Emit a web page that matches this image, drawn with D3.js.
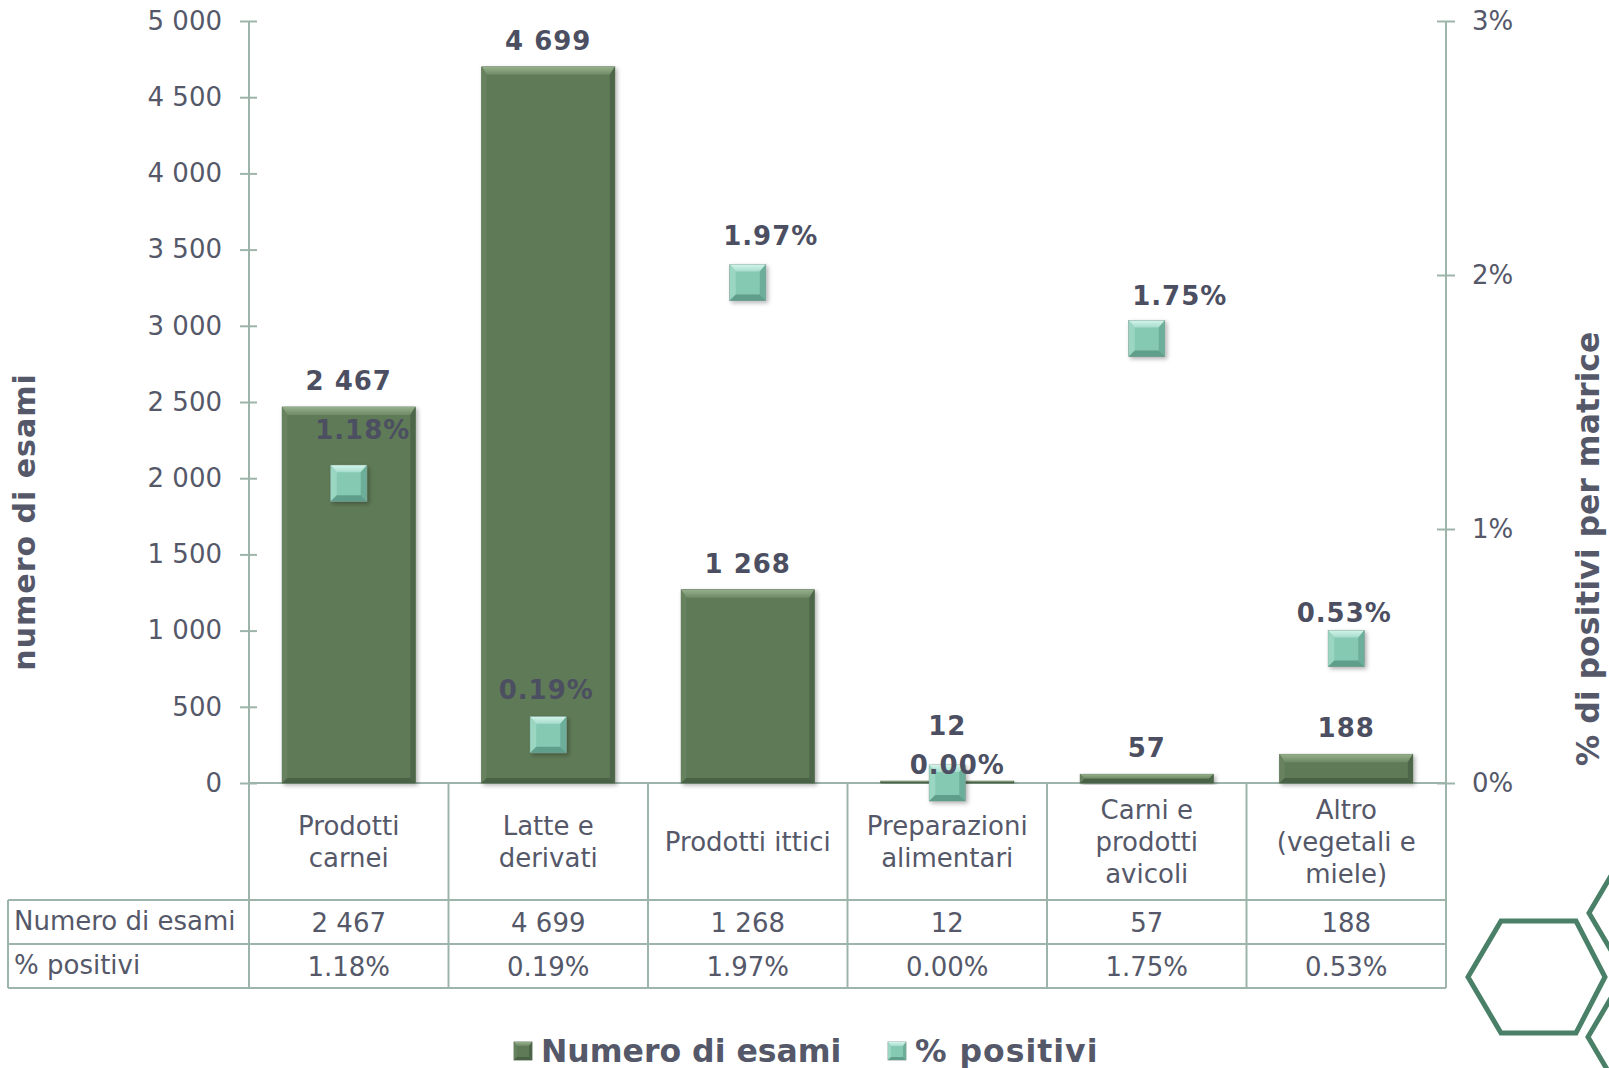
<!DOCTYPE html>
<html>
<head>
<meta charset="utf-8">
<script src="https://cdn.jsdelivr.net/npm/d3@7"></script>
<style>
  html, body { margin: 0; padding: 0; background: #ffffff; }
  svg { display: block; }
  text { font-family: "DejaVu Sans", Verdana, sans-serif; }
</style>
</head>
<body>
<svg id="chart" width="1609" height="1068"></svg>
<script>
// ---------- data ----------
const categories = ["Prodotti carnei", "Latte e derivati", "Prodotti ittici", "Preparazioni alimentari", "Carni e prodotti avicoli", "Altro (vegetali e miele)"];
const categoryLines = [["Prodotti", "carnei"], ["Latte e", "derivati"], ["Prodotti ittici"], ["Preparazioni", "alimentari"], ["Carni e", "prodotti", "avicoli"], ["Altro", "(vegetali e", "miele)"]];
const examCounts = [2467, 4699, 1268, 12, 57, 188];
const pctPositive = [0.0118, 0.0019, 0.0197, 0.0000, 0.0175, 0.0053];
const leftTicks = [0, 500, 1000, 1500, 2000, 2500, 3000, 3500, 4000, 4500, 5000];
const rightTicks = [0, 0.01, 0.02, 0.03];
const seriesNames = ["Numero di esami", "% positivi"];
const rowLabels = ["Numero di esami", "% positivi"];
const leftTitle = "numero di esami";
const rightTitle = "% di positivi per matrice";

// label nudges (px, relative to the default label anchor), as placed in the original
const barLabelNudge = [0, 0, 0, -29, 0, 0];
const pctLabelNudge = [[14, -44], [-2, -36], [23, -38], [10, -9], [33, -34], [-2, -26]];

// ---------- layout ----------
const svg = d3.select("#chart");
const X0 = 249, X1 = 1446, YTOP = 21, YBASE = 783;
const ROW1 = 900, ROW2 = 944, ROW3 = 988, TABLE_LEFT = 8;
const AXIS_COLOR = "#9cb4a9";
const TEXT_COLOR = "#555869";
const BOLD_COLOR = "#4c4f61";

const x = d3.scaleBand().domain(categories).range([X0, X1]).padding(0);
const y = d3.scaleLinear().domain([0, 5000]).range([YBASE, YTOP]);
const y2 = d3.scaleLinear().domain([0, 0.03]).range([YBASE, YTOP]);

const locale = d3.formatLocale({ decimal: ".", thousands: " ", grouping: [3], currency: ["", ""] });
const fmtNum = locale.format(",");
const fmtPct = d3.format(".2%");
const fmtPctAxis = d3.format(".0%");

// ---------- defs ----------
const defs = svg.append("defs");
const sh = defs.append("filter").attr("id", "shadow").attr("x", "-20%").attr("y", "-20%").attr("width", "140%").attr("height", "140%");
sh.append("feDropShadow").attr("dx", 2).attr("dy", 2).attr("stdDeviation", 2).attr("flood-color", "#000").attr("flood-opacity", 0.3);
const gTop = defs.append("linearGradient").attr("id", "barTop").attr("x1", 0).attr("y1", 0).attr("x2", 0).attr("y2", 1);
gTop.append("stop").attr("offset", 0).attr("stop-color", "#97b08c");
gTop.append("stop").attr("offset", 1).attr("stop-color", "#6d8964");
const mTop = defs.append("linearGradient").attr("id", "mkTop").attr("x1", 0).attr("y1", 0).attr("x2", 0).attr("y2", 1);
mTop.append("stop").attr("offset", 0).attr("stop-color", "#d2f4ea");
mTop.append("stop").attr("offset", 1).attr("stop-color", "#a6dccb");

function bevelBox(g, bx, by, w, h, bt, bs, colors, stroke) {
  const bT = Math.min(bt, h / 2), bS = Math.min(bs, w / 2, h / 2);
  g.append("rect").attr("x", bx).attr("y", by).attr("width", w).attr("height", h)
    .attr("fill", colors.face).attr("stroke", stroke).attr("stroke-width", 0.8);
  const poly = (pts, fill) => g.append("polygon").attr("points", pts.map(p => p.join(",")).join(" ")).attr("fill", fill);
  poly([[bx, by], [bx + w, by], [bx + w - bS, by + bT], [bx + bS, by + bT]], colors.top);
  poly([[bx, by], [bx + bS, by + bT], [bx + bS, by + h - bS], [bx, by + h]], colors.left);
  poly([[bx + w, by], [bx + w - bS, by + bT], [bx + w - bS, by + h - bS], [bx + w, by + h]], colors.right);
  poly([[bx, by + h], [bx + bS, by + h - bS], [bx + w - bS, by + h - bS], [bx + w, by + h]], colors.bottom);
}
const barColors = { face: "#5f7a57", top: "url(#barTop)", left: "#67825f", right: "#4e6648", bottom: "#4a6244" };
const mkColors = { face: "#86c9b3", top: "url(#mkTop)", left: "#9bd6c3", right: "#6cae99", bottom: "#5e9e8a" };

// ---------- axes ----------
const axL = svg.append("g").attr("transform", `translate(${X0},0)`)
  .call(d3.axisLeft(y).tickValues(leftTicks).tickFormat(fmtNum).tickSize(0).tickPadding(27));
axL.select(".domain").remove();
axL.selectAll(".tick line").attr("x1", -9).attr("x2", 8).attr("stroke", AXIS_COLOR).attr("stroke-width", 2);
axL.selectAll(".tick text").attr("font-size", 26).attr("fill", TEXT_COLOR).attr("font-family", "DejaVu Sans");

const axR = svg.append("g").attr("transform", `translate(${X1},0)`)
  .call(d3.axisRight(y2).tickValues(rightTicks).tickFormat(fmtPctAxis).tickSize(0).tickPadding(26));
axR.select(".domain").remove();
axR.selectAll(".tick line").attr("x1", -9).attr("x2", 9).attr("stroke", AXIS_COLOR).attr("stroke-width", 2);
axR.selectAll(".tick text").attr("font-size", 26).attr("fill", TEXT_COLOR).attr("font-family", "DejaVu Sans");

// axis lines and table grid
const grid = svg.append("g").attr("stroke", AXIS_COLOR).attr("stroke-width", 2).attr("fill", "none");
grid.append("line").attr("x1", X0).attr("x2", X0).attr("y1", YTOP).attr("y2", ROW3);
grid.append("line").attr("x1", X1).attr("x2", X1).attr("y1", YTOP).attr("y2", ROW3);
grid.append("line").attr("x1", X0).attr("x2", X1).attr("y1", YBASE).attr("y2", YBASE);
categories.slice(1).forEach(c => {
  grid.append("line").attr("x1", x(c)).attr("x2", x(c)).attr("y1", YBASE).attr("y2", ROW3);
});
[ROW1, ROW2, ROW3].forEach(r => grid.append("line").attr("x1", TABLE_LEFT).attr("x2", X1).attr("y1", r).attr("y2", r));
grid.append("line").attr("x1", TABLE_LEFT).attr("x2", TABLE_LEFT).attr("y1", ROW1).attr("y2", ROW3);

// ---------- bars ----------
const barW = x.bandwidth() * 0.667;
const bars = svg.append("g");
categories.forEach((c, i) => {
  const g = bars.append("g").attr("filter", "url(#shadow)");
  const bx = x(c) + (x.bandwidth() - barW) / 2;
  const by = y(examCounts[i]);
  const h = Math.max(1.5, YBASE - by);
  bevelBox(g, bx, YBASE - h, barW, h, 8, 5, barColors, "#4d6547");
});

// ---------- axis titles ----------
svg.append("text").attr("transform", `translate(35,522) rotate(-90)`).attr("text-anchor", "middle")
  .attr("font-size", 30).attr("letter-spacing", 1).attr("font-weight", "bold").attr("fill", TEXT_COLOR).text(leftTitle);
svg.append("text").attr("transform", `translate(1599,549) rotate(-90)`).attr("text-anchor", "middle")
  .attr("font-size", 31.5).attr("font-weight", "bold").attr("fill", TEXT_COLOR).text(rightTitle);

// ---------- table ----------
const tbl = svg.append("g").attr("font-size", 26).attr("fill", TEXT_COLOR);
categories.forEach((c, i) => {
  const cx = x(c) + x.bandwidth() / 2;
  const lines = categoryLines[i];
  const mid = (YBASE + ROW1) / 2;
  lines.forEach((ln, j) => {
    tbl.append("text").attr("x", cx).attr("y", mid + (j - (lines.length - 1) / 2) * 32)
      .attr("dy", "0.36em").attr("text-anchor", "middle").text(ln);
  });
  tbl.append("text").attr("x", cx).attr("y", (ROW1 + ROW2) / 2 + 1).attr("dy", "0.36em").attr("text-anchor", "middle").text(fmtNum(examCounts[i]));
  tbl.append("text").attr("x", cx).attr("y", (ROW2 + ROW3) / 2 + 1).attr("dy", "0.36em").attr("text-anchor", "middle").text(fmtPct(pctPositive[i]));
});
rowLabels.forEach((r, k) => {
  const cy = k === 0 ? (ROW1 + ROW2) / 2 : (ROW2 + ROW3) / 2;
  tbl.append("text").attr("x", 14).attr("y", cy - 1).attr("dy", "0.36em").text(r);
});

// ---------- markers ----------
const MK = 36;
const mk = svg.append("g");
categories.forEach((c, i) => {
  const cx = x(c) + x.bandwidth() / 2, cy = y2(pctPositive[i]);
  const g = mk.append("g").attr("filter", "url(#shadow)");
  bevelBox(g, cx - MK / 2, cy - MK / 2, MK, MK, 7, 6, mkColors, "#7e958d");
});

// ---------- data labels ----------
const lbl = svg.append("g").attr("font-size", 26).attr("font-weight", "bold").attr("fill", BOLD_COLOR).attr("text-anchor", "middle");
categories.forEach((c, i) => {
  const cx = x(c) + x.bandwidth() / 2;
  lbl.append("text").attr("x", cx).attr("y", y(examCounts[i]) - 17 + barLabelNudge[i]).attr("letter-spacing", 1).text(fmtNum(examCounts[i]));
  lbl.append("text").attr("x", cx + pctLabelNudge[i][0]).attr("y", y2(pctPositive[i]) + pctLabelNudge[i][1]).attr("letter-spacing", 1).text(fmtPct(pctPositive[i]));
});

// ---------- legend ----------
const leg = svg.append("g");
const legItems = [{ name: seriesNames[0], x: 514, colors: barColors, stroke: "#4d6547", ls: 0 }, { name: seriesNames[1], x: 888, colors: mkColors, stroke: "#7e958d", ls: 1 }];
legItems.forEach(it => {
  const g = leg.append("g");
  bevelBox(g, it.x, 1042, 18, 18, 4, 3, it.colors, it.stroke);
  leg.append("text").attr("x", it.x + 27).attr("y", 1051).attr("dy", "0.36em").attr("font-size", 31.5).attr("font-weight", "bold")
    .attr("letter-spacing", it.ls).attr("fill", TEXT_COLOR).text(it.name);
});

// ---------- decorative hexagons ----------
const hexShape = [[-68.5, 0], [-35.5, -56], [39.5, -56], [68.5, 0], [39.5, 56], [-35.5, 56]];
const hexCenters = [[1536.5, 977], [1657.5, 913], [1656.5, 1037]];
const hexG = svg.append("g").attr("fill", "none").attr("stroke", "#4a8068").attr("stroke-width", 5).attr("stroke-linejoin", "miter");
hexCenters.forEach(([hx, hy]) => {
  hexG.append("path").attr("d", d3.line()(hexShape.map(([a, b]) => [hx + a, hy + b])) + "Z");
});
</script>
</body>
</html>
